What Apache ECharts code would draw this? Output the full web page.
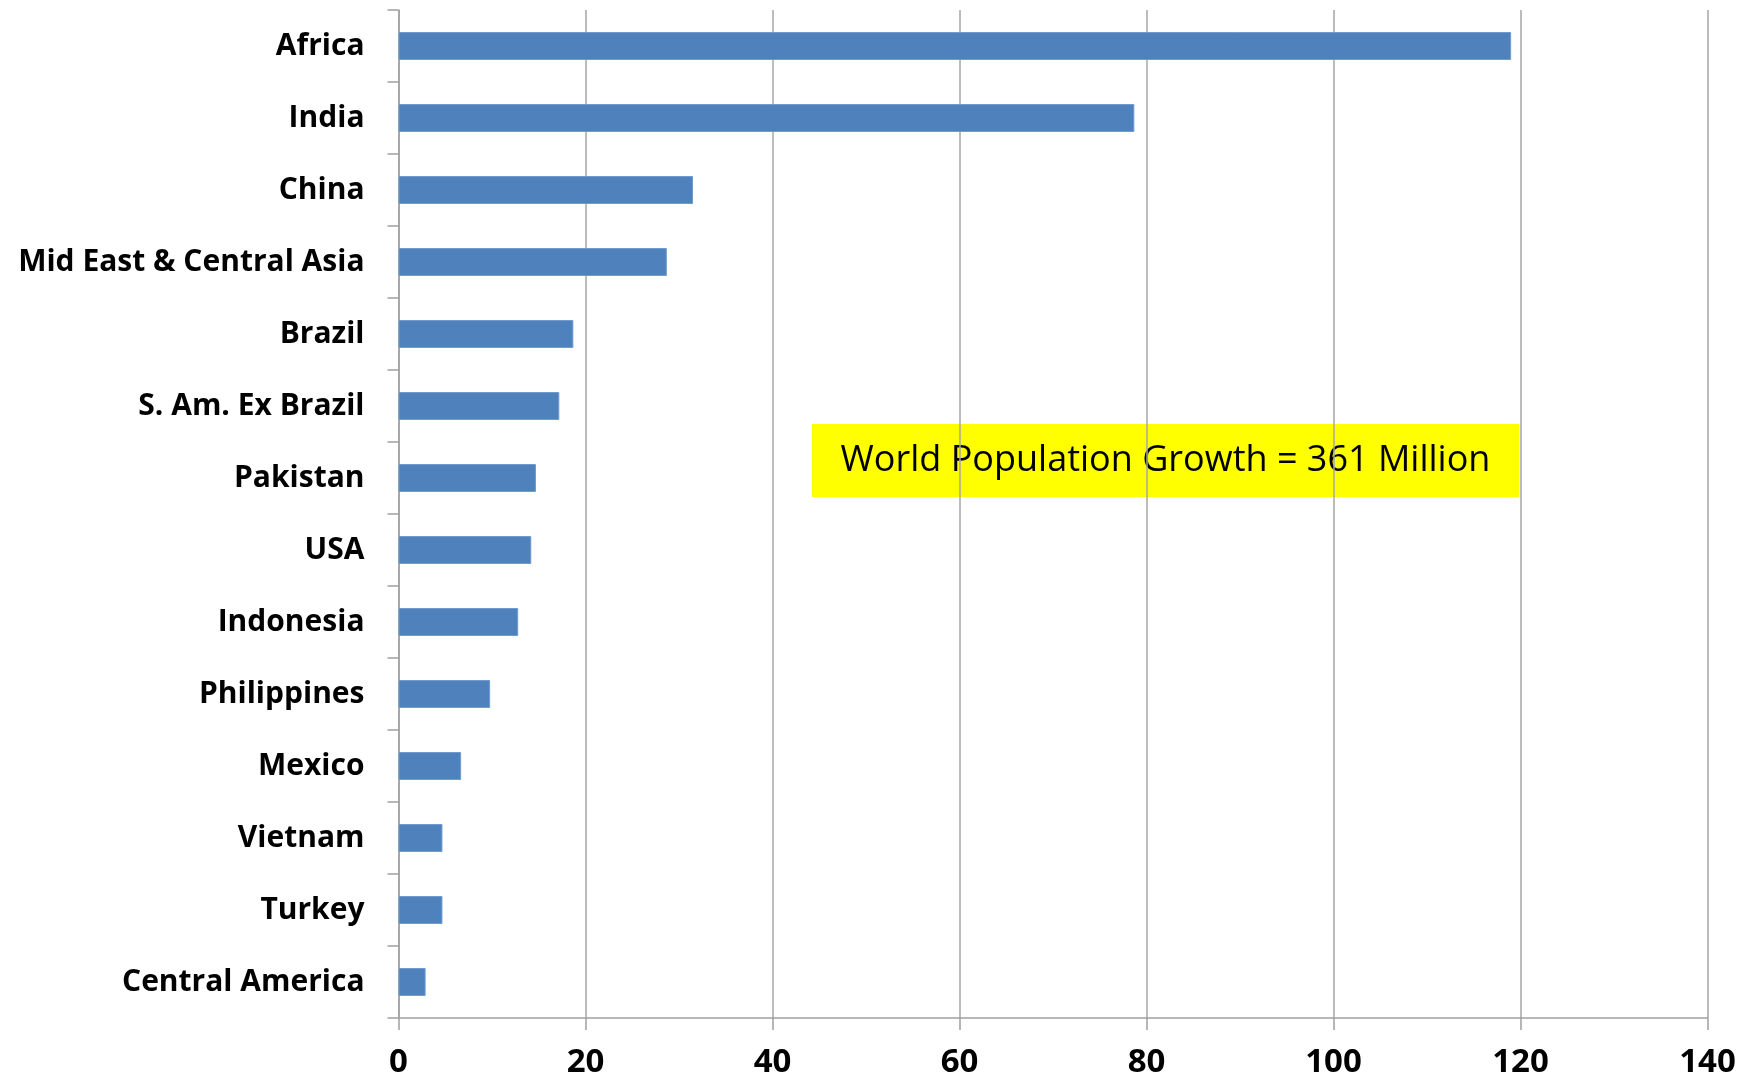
<!DOCTYPE html>
<html>
<head>
<meta charset="utf-8">
<script src="https://cdn.jsdelivr.net/npm/echarts@6/dist/echarts.min.js"></script>
<style>
html,body{margin:0;padding:0;background:#fff;}
#chart{width:1758px;height:1076px;}
</style>
</head>
<body>
<div id="chart"></div>
<script>
var categories = ["Africa","India","China","Mid East & Central Asia","Brazil","S. Am. Ex Brazil","Pakistan","USA","Indonesia","Philippines","Mexico","Vietnam","Turkey","Central America"];
var growth = [119, 78.7, 31.5, 28.7, 18.7, 17.2, 14.7, 14.2, 12.8, 9.8, 6.7, 4.7, 4.7, 2.9];
var xTicks = [0, 20, 40, 60, 80, 100, 120, 140];
var annotation = "World Population Growth = 361 Million";

var chart = echarts.init(document.getElementById('chart'));
var labelFont = '"Open Sans", Lato, sans-serif';
chart.setOption({
  animation: false,
  backgroundColor: '#ffffff',
  grid: {left: 398.5, right: 50.5, top: 10, bottom: 58, containLabel: false, outerBoundsMode: 'none'},
  xAxis: {
    type: 'value',
    min: xTicks[0],
    max: xTicks[xTicks.length - 1],
    interval: xTicks[1] - xTicks[0],
    axisLine: {show: true, lineStyle: {color: '#a0a0a0', width: 1.5}},
    axisTick: {show: true, length: 12, lineStyle: {color: '#a0a0a0', width: 1.5}},
    splitLine: {show: true, lineStyle: {color: '#a6a6a6', width: 1.5}},
    axisLabel: {color: '#000', fontFamily: labelFont, fontWeight: 'bold', fontSize: 33, margin: 28}
  },
  yAxis: {
    type: 'category',
    inverse: true,
    data: categories,
    axisLine: {show: true, lineStyle: {color: '#a0a0a0', width: 1.5}},
    axisTick: {show: true, length: 11, alignWithLabel: false, lineStyle: {color: '#a0a0a0', width: 1.5}},
    splitLine: {show: false},
    axisLabel: {color: '#000', fontFamily: labelFont, fontWeight: 'bold', fontSize: 30, margin: 34, padding: [5, 0, 0, 0]}
  },
  series: [{
    type: 'bar',
    data: growth,
    barWidth: 28,
    itemStyle: {color: '#4f81bd', borderColor: '#6f9bd0', borderWidth: 1}
  }],
  graphic: [{
    type: 'group',
    children: [
      {type: 'rect', shape: {x: 812, y: 424, width: 707, height: 73}, style: {fill: '#ffff00'}},
      {type: 'text', x: 1165.5, y: 461, style: {text: annotation, fill: '#000', font: '36px "Open Sans", Lato, sans-serif', textAlign: 'center', textVerticalAlign: 'middle'}}
    ]
  }]
});
</script>
</body>
</html>
